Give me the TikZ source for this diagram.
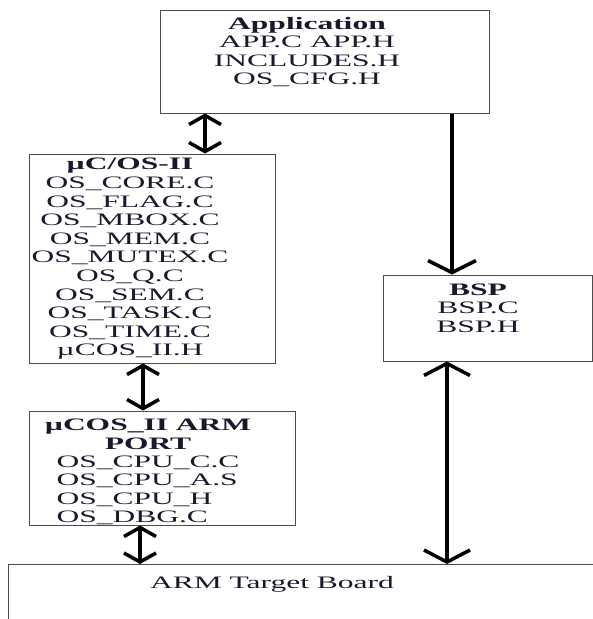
\documentclass[tikz,border=0pt]{standalone}
\usepackage{fontspec}
\setmainfont{Liberation Serif}[FakeStretch=1.8]
\usetikzlibrary{arrows.meta,positioning}
\definecolor{inkblue}{RGB}{25,25,45}
\tikzset{
  box/.style={draw=black!70, line width=1pt},
  files/.style={text=inkblue, font=\fontsize{17.5}{18.6}\selectfont, inner sep=0pt},
  bigarrow/.style={line width=3.5pt, {Straight Barb[length=12pt,width=46pt]}-{Straight Barb[length=12pt,width=46pt]}},
  smallarrow/.style={line width=3.5pt, {Straight Barb[length=9pt,width=32pt]}-{Straight Barb[length=9pt,width=32pt]}},
}
\begin{document}
\begin{tikzpicture}[x=1pt, y=-1pt]
\path[use as bounding box, clip] (0,0) rectangle (593,619);
\fill[white] (0,0) rectangle (593,619);

% boxes
\node[box, minimum width=329pt, minimum height=103pt] (app) at (324.5,61.5) {};
\node[box, minimum width=246pt, minimum height=209pt] (os) at (152,258.5) {};
\node[box, minimum width=266pt, minimum height=114pt] (port) at (162,468) {};
\node[box, minimum width=209pt, minimum height=86pt] (bsp) at (487.5,318) {};
\node[box, minimum width=620pt, minimum height=90pt, anchor=north west] (board) at (8,564) {};

% texts
\node[files, align=center] (apptext) at (307,52) {\textbf{Application}\\APP.C APP.H\\INCLUDES.H\\OS\_CFG.H};
\node[files, align=center] (ostext) at (130,259) {\textbf{µC/OS-II}\\OS\_CORE.C\\OS\_FLAG.C\\OS\_MBOX.C\\OS\_MEM.C\\OS\_MUTEX.C\\OS\_Q.C\\OS\_SEM.C\\OS\_TASK.C\\OS\_TIME.C\\µCOS\_II.H};
\node[files, align=center] (porthead) at (148,434) {\textbf{µCOS\_II ARM}\\\textbf{PORT}};
\node[files, align=left, below=6pt of porthead] (portfiles) {OS\_CPU\_C.C\\OS\_CPU\_A.S\\OS\_CPU\_H\\OS\_DBG.C};
\node[files, align=center] (bsptext) at (478,308) {\textbf{BSP}\\BSP.C\\BSP.H};
\node[files] (boardtext) at (272,584) {ARM Target Board};

% connectors
\draw[smallarrow] (app.south -| 205,0) -- (os.north -| 205,0);
\draw[smallarrow] (os.south -| 143,0) -- (port.north -| 143,0);
\draw[smallarrow] (port.south -| 140,0) -- (board.north -| 140,0);
\draw[line width=3.5pt, -{Straight Barb[length=12pt,width=48pt]}] (app.south -| 452,0) -- (bsp.north -| 452,0);
\draw[bigarrow] (bsp.south -| 447,0) -- (board.north -| 447,0);
\end{tikzpicture}
\end{document}
